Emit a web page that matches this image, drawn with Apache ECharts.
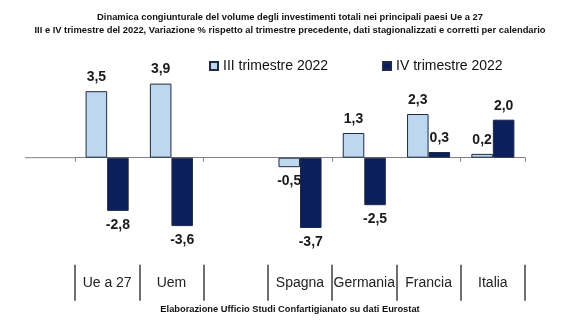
<!DOCTYPE html>
<html><head><meta charset="utf-8">
<script src="https://cdn.jsdelivr.net/npm/echarts@6/dist/echarts.min.js"></script>
<style>html,body{margin:0;padding:0;background:#fff}#c{width:580px;height:326px}</style>
</head><body><div id="c"></div>
<script>
var categories = ['Ue a 27', 'Uem', '', 'Spagna', 'Germania', 'Francia', 'Italia'];
var seriesNames = ['III trimestre 2022', 'IV trimestre 2022'];
var q3Values = [3.5, 3.9, null, -0.5, 1.3, 2.3, 0.2];
var q4Values = [-2.8, -3.6, null, -3.7, -2.5, 0.3, 2.0];
var titleLines = ['Dinamica congiunturale del volume degli investimenti totali nei principali paesi Ue a 27',
  'III e IV trimestre del 2022, Variazione % rispetto al trimestre precedente, dati stagionalizzati e corretti per calendario'];
var footerText = 'Elaborazione Ufficio Studi Confartigianato su dati Eurostat';

var sans = '"Liberation Sans", Arial, sans-serif';

function toData(arr) {
  return arr.map(function (v) {
    if (v === null) return '-';
    return { value: v, label: { position: v < 0 ? 'bottom' : 'top' } };
  });
}
function fmt(p) { return p.value.toFixed(1).replace('.', ','); }

var chart = echarts.init(document.getElementById('c'), null, { renderer: 'canvas' });
var labelStyle = { show: true, formatter: fmt, fontFamily: sans, fontWeight: 'bold', fontSize: 14, color: '#1a1a1a', distance: 7 };
chart.setOption({
  animation: false,
  backgroundColor: '#ffffff',
  title: [
    { text: titleLines.join('\n'), left: 'center', top: 6, textStyle: { fontFamily: sans, fontWeight: 'bold', fontSize: 9.35, lineHeight: 13, color: '#111' } },
    { text: footerText, left: 'center', top: 300, textStyle: { fontFamily: sans, fontWeight: 'bold', fontSize: 9.3, color: '#111' } }
  ],
  legend: {
    data: seriesNames, left: 204, top: 54, itemWidth: 8, itemHeight: 8, itemGap: 54, icon: 'rect',
    textStyle: { fontFamily: sans, fontSize: 14, color: '#111' }
  },
  grid: { left: 75, right: 55, top: 62.7, bottom: 73.3, containLabel: false },
  xAxis: [
    { type: 'category', data: categories, axisLine: { onZero: true, lineStyle: { color: '#808080', width: 1 } },
      axisTick: { show: true, length: 4, lineStyle: { color: '#808080' } }, axisLabel: { show: false } },
    { type: 'category', data: categories, position: 'bottom', offset: 12, axisLine: { show: false },
      axisTick: { show: true, length: 36, lineStyle: { color: '#404040', width: 1.5 } },
      axisLabel: { show: true, margin: 11, fontFamily: sans, fontSize: 14, color: '#222', interval: 0 } }
  ],
  yAxis: { type: 'value', min: -5, max: 5, show: false, splitLine: { show: false } },
  series: [
    { name: seriesNames[0], type: 'bar', data: toData(q3Values), barGap: '0%', barCategoryGap: '33%',
      itemStyle: { color: '#bdd7ee', borderColor: '#1f2a44', borderWidth: 1 }, label: labelStyle },
    { name: seriesNames[1], type: 'bar', data: toData(q4Values), barGap: '0%', barCategoryGap: '33%',
      itemStyle: { color: '#0b1f5c', borderColor: '#1f2a44', borderWidth: 1 }, label: labelStyle }
  ]
});
var y0 = chart.convertToPixel({ yAxisIndex: 0 }, 0);
var x0 = chart.convertToPixel({ xAxisIndex: 0 }, 0) - 32 - 50;
chart.setOption({
  graphic: [{ type: 'line', shape: { x1: x0, y1: y0, x2: x0 + 50, y2: y0 }, style: { stroke: '#808080', lineWidth: 1 }, silent: true }]
});
</script></body></html>
